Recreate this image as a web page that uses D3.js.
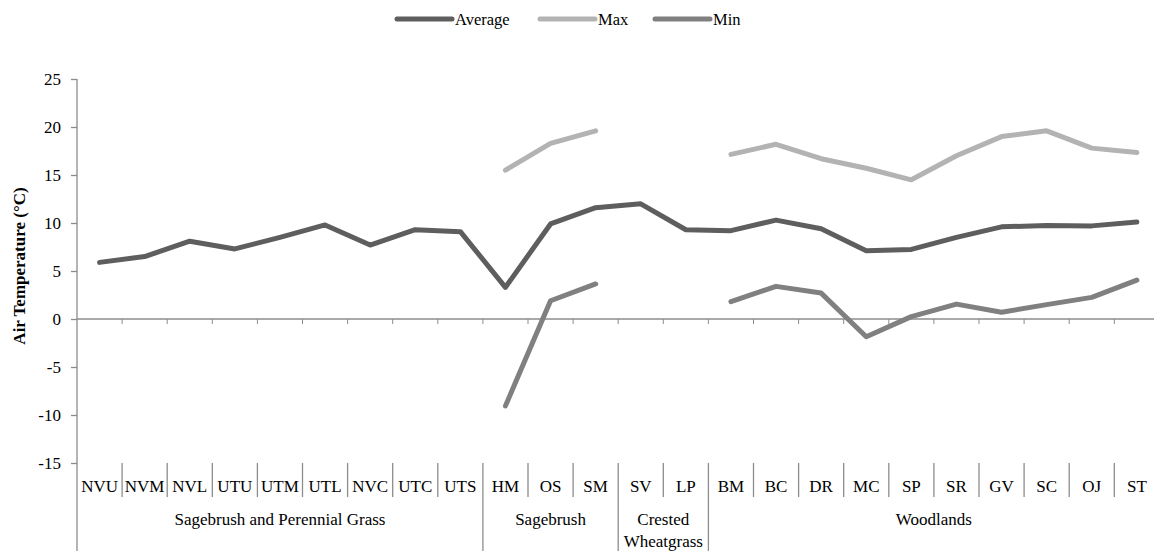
<!DOCTYPE html>
<html>
<head>
<meta charset="utf-8">
<script src="https://cdn.jsdelivr.net/npm/d3@7"></script>
<style>
  html, body { margin: 0; padding: 0; background: #fff; }
  svg, svg text { font-family: "Liberation Serif", "Times New Roman", Times, "DejaVu Serif", serif !important; }
  svg { display: block; }
</style>
</head>
<body>
<div id="chart"></div>
<script>
const categories = ['NVU', 'NVM', 'NVL', 'UTU', 'UTM', 'UTL', 'NVC', 'UTC', 'UTS',
  'HM', 'OS', 'SM', 'SV', 'LP',
  'BM', 'BC', 'DR', 'MC', 'SP', 'SR', 'GV', 'SC', 'OJ', 'ST'];

const groups = [
  { label: ['Sagebrush and Perennial Grass'], count: 9 },
  { label: ['Sagebrush'], count: 3 },
  { label: ['Crested', 'Wheatgrass'], count: 2 },
  { label: ['Woodlands'], count: 10 }
];

const average = [5.9, 6.5, 8.1, 7.3, 8.5, 9.8, 7.7, 9.3, 9.1,
  3.3, 9.9, 11.6, 12.0, 9.3,
  9.2, 10.3, 9.4, 7.1, 7.25, 8.5, 9.6, 9.75, 9.7, 10.1];

const maxT = [null, null, null, null, null, null, null, null, null,
  15.5, 18.3, 19.6, null, null,
  17.15, 18.2, 16.7, 15.7, 14.5, 17.0, 19.0, 19.6, 17.8, 17.35];

const minT = [null, null, null, null, null, null, null, null, null,
  -9.05, 1.9, 3.65, null, null,
  1.8, 3.4, 2.7, -1.85, 0.25, 1.55, 0.7, 1.5, 2.25, 4.05];

const yTicks = [25, 20, 15, 10, 5, 0, -5, -10, -15];

const series = [
  { name: 'Average', values: average, color: '#5e5e5e' },
  { name: 'Max', values: maxT, color: '#b3b3b3' },
  { name: 'Min', values: minT, color: '#808080' }
];

const width = 1154, height = 551;
const axisColor = '#8c8c8c';
const plotLeft = 77, step = 45.1;
const plotTop = 79, plotBottom = 463;

const svg = d3.select('#chart').append('svg')
  .attr('width', width)
  .attr('height', height);

const x = d3.scaleBand()
  .domain(categories)
  .range([plotLeft, plotLeft + step * categories.length]);

const y = d3.scaleLinear()
  .domain([-15, 25])
  .range([plotBottom, plotTop]);

// y axis
const yAxis = svg.append('g')
  .attr('transform', `translate(${plotLeft},0)`)
  .call(d3.axisLeft(y).tickValues(yTicks).tickSize(6).tickPadding(10).tickFormat(d3.format('d')));
yAxis.attr('font-family', null);
yAxis.select('.domain').remove();
yAxis.selectAll('line').attr('stroke', axisColor).attr('stroke-width', 1.3);
yAxis.selectAll('text')
  .attr('fill', '#000')
  .style('font-size', '17px');
yAxis.selectAll('text').text(d => d < 0 ? '-' + Math.abs(d) : d);

svg.append('line')
  .attr('x1', plotLeft).attr('x2', plotLeft)
  .attr('y1', plotTop).attr('y2', height)
  .attr('stroke', axisColor).attr('stroke-width', 1.3);

svg.append('text')
  .attr('transform', `translate(25,266) rotate(-90)`)
  .attr('text-anchor', 'middle')
  .style('font-size', '17px')
  .style('font-weight', 'bold')
  .text('Air Temperature (°C)');

// x axis at zero
const xAxis = svg.append('g')
  .attr('transform', `translate(0,${y(0)})`);
xAxis.append('line')
  .attr('x1', plotLeft).attr('x2', width)
  .attr('stroke', axisColor).attr('stroke-width', 1.3);
xAxis.selectAll('.tick')
  .data(categories.slice(1))
  .join('line')
  .attr('x1', d => x(d)).attr('x2', d => x(d))
  .attr('y1', 0).attr('y2', 5)
  .attr('stroke', axisColor);

// category labels and separators
const groupStarts = [];
let acc = 0;
groups.forEach(g => { groupStarts.push(acc); acc += g.count; });

svg.append('g').selectAll('line')
  .data(categories.slice(1))
  .join('line')
  .attr('x1', d => x(d)).attr('x2', d => x(d))
  .attr('y1', plotBottom)
  .attr('y2', d => groupStarts.includes(categories.indexOf(d)) ? height : 497)
  .attr('stroke', axisColor).attr('stroke-width', 1.3);

svg.append('g').selectAll('text')
  .data(categories)
  .join('text')
  .attr('x', d => x(d) + x.bandwidth() / 2)
  .attr('y', 492)
  .attr('text-anchor', 'middle')
  .style('font-size', '17px')
  .text(d => d);

groups.forEach((g, i) => {
  const s = groupStarts[i];
  const cx = (x(categories[s]) + x(categories[s + g.count - 1]) + x.bandwidth()) / 2;
  g.label.forEach((t, j) => {
    svg.append('text')
      .attr('x', cx)
      .attr('y', 525 + j * 22)
      .attr('text-anchor', 'middle')
      .style('font-size', '17px')
      .text(t);
  });
});

// lines
const line = d3.line()
  .defined(d => d.v !== null)
  .x(d => x(d.c) + x.bandwidth() / 2)
  .y(d => y(d.v));

series.forEach(s => {
  svg.append('path')
    .datum(categories.map((c, i) => ({ c, v: s.values[i] })))
    .attr('fill', 'none')
    .attr('stroke', s.color)
    .attr('stroke-width', 5)
    .attr('stroke-linejoin', 'round')
    .attr('stroke-linecap', 'round')
    .attr('d', line);
});

// legend
const legendX = [397, 540, 655];
const legend = svg.append('g');
series.forEach((s, i) => {
  legend.append('line')
    .attr('x1', legendX[i]).attr('x2', legendX[i] + 55)
    .attr('y1', 19).attr('y2', 19)
    .attr('stroke', s.color)
    .attr('stroke-width', 5)
    .attr('stroke-linecap', 'round');
  legend.append('text')
    .attr('x', legendX[i] + 58)
    .attr('y', 25)
    .style('font-size', '16.5px')
    .text(s.name);
});
</script>
</body>
</html>
